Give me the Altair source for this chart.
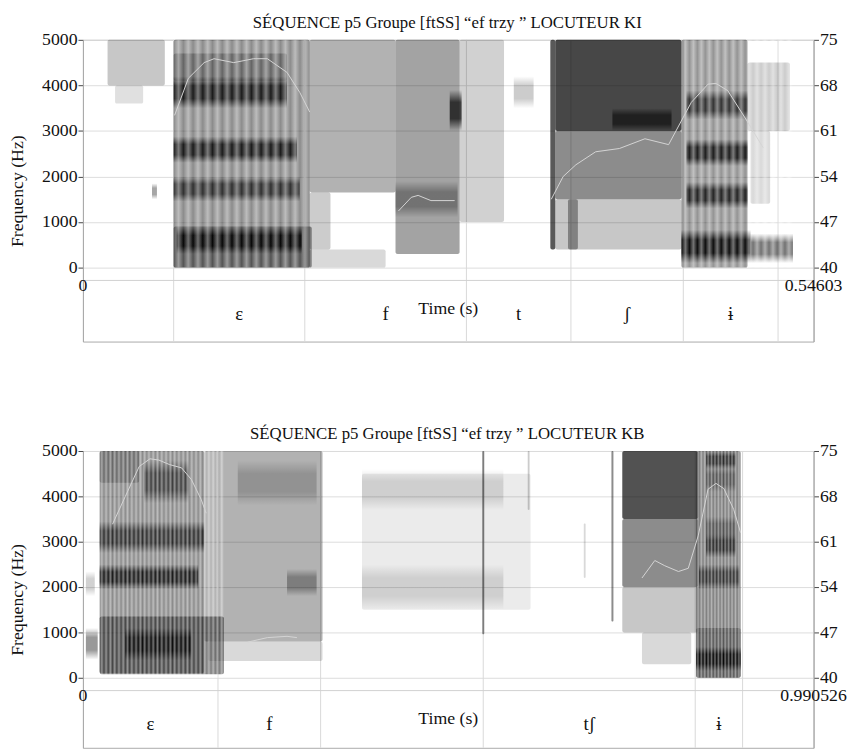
import altair as alt
import pandas as pd

FONT = "Liberation Serif"

# ---- speaker KI ----
KI_TITLE = "SÉQUENCE p5 Groupe [ftSS] “ef trzy ” LOCUTEUR KI"
KI_TMAX = 0.54603
KI_BOUNDS = [0.0678, 0.1658, 0.2866, 0.3647, 0.4487, 0.5195]
KI_LABELS = ["", "ε", "f", "t", "ʃ", "ɨ", ""]

# spectrogram energy patches: start/end time (s), low/high freq (Hz), darkness, shape
KI_T0 = [0.0184, 0.0240, 0.0516, 0.0678, 0.0678, 0.0700, 0.0678, 0.0678, 0.0678, 0.0678,
         0.1695, 0.1695, 0.1695, 0.2336, 0.2336, 0.2741, 0.2815, 0.3220, 0.3493, 0.3530,
         0.3957, 0.3530, 0.3530, 0.3625, 0.4473, 0.4473, 0.4989, 0.4510, 0.4510, 0.4510,
         0.4967, 0.4989]
KI_T1 = [0.0612, 0.0450, 0.0553, 0.1695, 0.1710, 0.1636, 0.1620, 0.1600, 0.1525, 0.1525,
         0.2336, 0.2262, 0.1850, 0.2815, 0.2800, 0.2830, 0.3147, 0.3368, 0.3530, 0.4473,
         0.4399, 0.4473, 0.4473, 0.3699, 0.4967, 0.4989, 0.5306, 0.4967, 0.4967, 0.4967,
         0.5283, 0.5136]
KI_F0 = [4000, 3600, 1500, 0, 0, 300, 1450, 2300, 3500, 4100,
         1650, 0, 400, 300, 1100, 3000, 1000, 3500, 400, 3000,
         3000, 1500, 400, 400, 0, 100, 100, 1300, 2230, 3250,
         3000, 1400]
KI_F1 = [5000, 4000, 1850, 5000, 900, 880, 2000, 2880, 4200, 4700,
         5000, 400, 1650, 5000, 1900, 3900, 5000, 4200, 5000, 5000,
         3500, 3000, 1500, 1500, 5000, 830, 750, 1880, 2820, 3890,
         4500, 3000]
KI_DARK = [0.22, 0.12, 0.35, 0.45, 0.40, 0.90, 0.65, 0.80, 0.80, 0.28,
           0.30, 0.15, 0.20, 0.36, 0.30, 0.70, 0.18, 0.20, 0.65, 0.72,
           0.55, 0.45, 0.22, 0.35, 0.42, 0.90, 0.55, 0.75, 0.80, 0.65,
           0.20, 0.15]
KI_SHAPE = ["field", "field", "band", "field", "field", "band", "band", "band", "band", "field",
            "field", "field", "field", "field", "band", "band", "field", "band", "field", "field",
            "band", "field", "field", "field", "field", "band", "band", "band", "band", "band",
            "field", "field"]
# voiced stretches with their glottal period (s), shown as vertical striations
KI_VOICED_T0 = [0.0678, 0.4473]
KI_VOICED_T1 = [0.1695, 0.5306]
KI_PERIOD = [0.0074, 0.0059]

# contour (right axis)
KI_CURVE_T = [0.0685, 0.0788, 0.0906, 0.0980, 0.1127, 0.1275, 0.1378, 0.1525, 0.1621, 0.1695,
              0.2358, 0.2454, 0.2505, 0.2601, 0.2778,
              0.3500, 0.3589, 0.3684, 0.3832, 0.4009, 0.4200, 0.4377, 0.4547, 0.4672, 0.4731,
              0.4819, 0.4967, 0.5084]
KI_CURVE_V = [63.4, 69.1, 71.5, 72.1, 71.5, 72.1, 72.1, 70.0, 66.9, 63.9,
              48.7, 50.8, 51.1, 50.3, 50.3,
              50.5, 54.0, 55.8, 57.8, 58.3, 59.8, 58.9, 65.4, 68.2, 68.3,
              67.2, 62.4, 58.4]
KI_CURVE_RUN = [1] * 10 + [2] * 5 + [3] * 13

# ---- speaker KB ----
KB_TITLE = "SÉQUENCE p5 Groupe [ftSS] “ef trzy ” LOCUTEUR KB"
KB_TMAX = 0.990526
KB_BOUNDS = [0.1831, 0.3222, 0.5427, 0.8301, 0.8943]
KB_LABELS = ["ε", "f", "", "tʃ", "ɨ", ""]

KB_T0 = [0.0040, 0.0040, 0.0227, 0.0227, 0.0575, 0.0227, 0.0227, 0.0829, 0.0227, 0.1644,
         0.1698, 0.2767, 0.2099, 0.3783, 0.3783, 0.3783, 0.5414, 0.6030, 0.6790, 0.7165,
         0.7312, 0.7312, 0.7312, 0.7579, 0.8314, 0.8314, 0.8314, 0.8450, 0.8350, 0.8450,
         0.8450, 0.8450]
KB_T1 = [0.0200, 0.0160, 0.1644, 0.1911, 0.1470, 0.1564, 0.1644, 0.1430, 0.0762, 0.3248,
         0.3248, 0.3168, 0.3168, 0.6069, 0.5700, 0.5700, 0.5441, 0.6055, 0.6815, 0.7192,
         0.8341, 0.8341, 0.8341, 0.8247, 0.8916, 0.8916, 0.8916, 0.8850, 0.8900, 0.8850,
         0.8850, 0.8850]
KB_F0 = [400, 1800, 100, 80, 380, 1950, 2750, 3850, 4300, 800,
         370, 1800, 3800, 1500, 3700, 1500, 960, 3700, 2200, 1240,
         3500, 2000, 1000, 300, 0, 150, 0, 2650, 1950, 4600,
         4100, 3050]
KB_F1 = [1100, 2350, 5000, 1350, 1100, 2500, 3450, 4800, 5000, 5000,
         800, 2400, 4800, 4500, 4600, 2500, 5000, 5000, 3400, 5000,
         5000, 3500, 2000, 1000, 5000, 680, 1100, 3200, 2500, 5000,
         4650, 3550]
KB_DARK = [0.40, 0.18, 0.45, 0.50, 0.80, 0.80, 0.65, 0.55, 0.25, 0.30,
           0.15, 0.30, 0.18, 0.08, 0.12, 0.12, 0.45, 0.20, 0.15, 0.45,
           0.68, 0.45, 0.22, 0.15, 0.50, 0.90, 0.30, 0.65, 0.60, 0.65,
           0.35, 0.35]
KB_SHAPE = ["band", "band", "field", "field", "band", "band", "band", "band", "field", "field",
            "field", "band", "band", "field", "band", "band", "field", "field", "field", "field",
            "field", "field", "field", "field", "field", "band", "field", "band", "band", "band",
            "band", "band"]
KB_VOICED_T0 = [0.0227, 0.8314]
KB_VOICED_T1 = [0.1911, 0.8916]
KB_PERIOD = [0.0058, 0.0045]

KB_CURVE_T = [0.0401, 0.0575, 0.0762, 0.0909, 0.1029, 0.1176, 0.1337, 0.1470, 0.1604, 0.1671,
              0.2232, 0.2500, 0.2767, 0.2901,
              0.7579, 0.7753, 0.7887, 0.8074, 0.8207, 0.8341, 0.8475, 0.8582, 0.8689, 0.8822,
              0.8916]
KB_CURVE_V = [63.7, 68.0, 72.6, 73.8, 73.6, 72.9, 72.4, 70.6, 67.5, 65.4,
              45.5, 46.2, 46.4, 46.2,
              55.4, 58.1, 57.3, 56.4, 56.9, 61.9, 69.1, 70.0, 69.2, 66.0,
              62.4]
KB_CURVE_RUN = [1] * 10 + [2] * 4 + [3] * 11

FREQ_TICKS = [0, 1000, 2000, 3000, 4000, 5000]
RIGHT_TICKS = [40, 47, 54, 61, 68, 75]

W = 741
CLEAR = "rgba(0,0,0,0)"

# soft top/bottom edges for formant bands
BAND_FILL = alt.Gradient(
    gradient="linear", x1=0, x2=0, y1=0, y2=1,
    stops=[alt.GradientStop(color=CLEAR, offset=0),
           alt.GradientStop(color="#000", offset=0.3),
           alt.GradientStop(color="#000", offset=0.7),
           alt.GradientStop(color=CLEAR, offset=1)],
)


def stripes(n):
    # light gaps between glottal pulses
    stops = []
    for i in range(n):
        stops.append(alt.GradientStop(color="rgba(255,255,255,0)", offset=i / n))
        stops.append(alt.GradientStop(color="rgba(255,255,255,0.42)", offset=(i + 0.5) / n))
    stops.append(alt.GradientStop(color="rgba(255,255,255,0)", offset=1))
    return alt.Gradient(gradient="linear", x1=0, x2=1, y1=0, y2=0, stops=stops)


def panel(title, tmax, bounds, labels, t0, t1, f0, f1, dark, shape,
          v0, v1, period, ct, cv, crun, freq_px, tier_px):
    h = freq_px + tier_px
    flo = -5000 * tier_px / freq_px
    rlo = 40 - 35 * tier_px / freq_px
    xs = alt.Scale(domain=[0, tmax], nice=False, zero=False)
    ys = alt.Scale(domain=[flo, 5000], nice=False, zero=False)

    blobs = pd.DataFrame({"t0": t0, "t1": t1, "f0": f0, "f1": f1, "a": dark, "shape": shape})
    edges = [0] + bounds + [tmax]
    segs = pd.DataFrame({"mid": [(a + b) / 2 for a, b in zip(edges[:-1], edges[1:])],
                         "lab": labels})
    curve = pd.DataFrame({"t": ct, "v": cv, "run": crun})
    ends = pd.DataFrame({"t": [0, tmax], "lab": ["0", f"{tmax:g}"]})

    rules = alt.Chart(pd.DataFrame({"t": bounds})).mark_rule(
        color="#d8d8d8", strokeWidth=1).encode(x=alt.X("t:Q", scale=xs, axis=None))

    fields = alt.Chart(blobs).transform_filter(alt.datum.shape == "field").mark_rect(
        color="#000", cornerRadius=2).encode(
        x=alt.X("t0:Q", scale=xs, axis=None),
        x2="t1:Q",
        y=alt.Y("f0:Q", scale=ys,
                axis=alt.Axis(values=FREQ_TICKS, format="d", title="Frequency (Hz)", grid=True,
                              gridColor="#dcdcdc", domainColor="#aaa", tickColor="#444",
                              tickSize=5, labelPadding=1, titlePadding=15,
                              labelFont=FONT, labelFontSize=18, labelColor="#111",
                              titleFont=FONT, titleFontSize=18, titleFontWeight="normal",
                              titleColor="#111")),
        y2="f1:Q",
        opacity=alt.Opacity("a:Q", scale=None, legend=None),
    )

    bands = alt.Chart(blobs).transform_filter(alt.datum.shape == "band").mark_rect(
        fill=BAND_FILL).encode(
        x=alt.X("t0:Q", scale=xs, axis=None),
        x2="t1:Q",
        y=alt.Y("f0:Q", scale=ys, axis=None),
        y2="f1:Q",
        opacity=alt.Opacity("a:Q", scale=None, legend=None),
    )

    pulses = [
        alt.Chart(pd.DataFrame({"t0": [a], "t1": [b]})).mark_rect(
            fill=stripes(max(1, round((b - a) / p)))).encode(
            x=alt.X("t0:Q", scale=xs, axis=None), x2="t1:Q",
            y=alt.value(0), y2=alt.value(freq_px))
        for a, b, p in zip(v0, v1, period)
    ]

    tier_line = alt.Chart(pd.DataFrame({"k": [0]})).mark_rule(
        color="#d0d0d0").encode(x=alt.value(0), x2=alt.value(W), y=alt.value(freq_px + 13))

    seg_text = alt.Chart(segs).mark_text(font=FONT, fontSize=19, color="#111").encode(
        x=alt.X("mid:Q", scale=xs, axis=None), y=alt.value(freq_px + 47), text="lab:N")

    end_text = alt.Chart(ends).mark_text(font=FONT, fontSize=18, color="#111").encode(
        x=alt.X("t:Q", scale=xs, axis=None), y=alt.value(freq_px + 19), text="lab:N")

    time_title = alt.Chart(pd.DataFrame({"lab": ["Time (s)"]})).mark_text(
        font=FONT, fontSize=18, color="#111").encode(
        x=alt.value(W / 2), y=alt.value(freq_px + 42), text="lab:N")

    head = alt.Chart(pd.DataFrame({"lab": [title]})).mark_text(
        font=FONT, fontSize=17, color="#111").encode(
        x=alt.value(W / 2 - 1), y=alt.value(-17), text="lab:N")

    contour = alt.Chart(curve).mark_line(color="#d4d4d4", strokeWidth=1).encode(
        x=alt.X("t:Q", scale=xs, axis=None),
        y=alt.Y("v:Q", scale=alt.Scale(domain=[rlo, 75], nice=False, zero=False),
                axis=alt.Axis(orient="right", values=RIGHT_TICKS, title=None, grid=False,
                              domainColor="#aaa", tickColor="#444", tickSize=5,
                              labelPadding=1, labelFont=FONT, labelFontSize=18,
                              labelColor="#111")),
        detail="run:N",
    )

    layers = [rules, fields, bands] + pulses + [tier_line, seg_text, end_text, time_title,
                                                 head, contour]
    return alt.layer(*layers).resolve_scale(y="independent").properties(width=W, height=h)


top = panel(KI_TITLE, KI_TMAX, KI_BOUNDS, KI_LABELS, KI_T0, KI_T1, KI_F0, KI_F1, KI_DARK,
            KI_SHAPE, KI_VOICED_T0, KI_VOICED_T1, KI_PERIOD,
            KI_CURVE_T, KI_CURVE_V, KI_CURVE_RUN, 231, 75)
bottom = panel(KB_TITLE, KB_TMAX, KB_BOUNDS, KB_LABELS, KB_T0, KB_T1, KB_F0, KB_F1, KB_DARK,
               KB_SHAPE, KB_VOICED_T0, KB_VOICED_T1, KB_PERIOD,
               KB_CURVE_T, KB_CURVE_V, KB_CURVE_RUN, 230, 71)

chart = alt.vconcat(top, bottom, spacing=83).properties(
    padding={"left": 0, "top": 0, "right": 5, "bottom": 0}
).configure_view(stroke="#aaa")

chart.save("out.html", embed_options={"renderer": "svg", "actions": False})
